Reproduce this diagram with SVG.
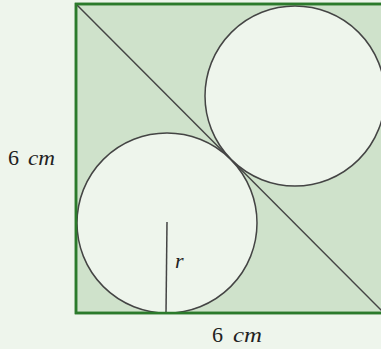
<svg xmlns="http://www.w3.org/2000/svg" width="381" height="349" viewBox="0 0 381 349">
<style>
.lbl{font-family:"Liberation Serif","Times New Roman","DejaVu Serif",serif;font-size:22px;fill:#222}
.it{font-style:italic}
.ln{stroke:#444;stroke-width:1.5;fill:none}
.circ{fill:#eef5ec;stroke:#444;stroke-width:1.5}
</style>
<rect x="0" y="0" width="381" height="349" fill="#eef5ec"/>
<g id="square">
<rect x="76" y="4" width="308" height="309" fill="#cfe2cb" stroke="#2b7a2b" stroke-width="2.5"/>
</g>
<g id="connectors">
<line class="ln" x1="76" y1="4" x2="384" y2="313"/>
</g>
<g id="circle-lower">
<circle class="circ" cx="167" cy="223" r="90"/>
</g>
<g id="circle-upper">
<circle class="circ" cx="295" cy="96" r="90"/>
</g>
<g id="radius">
<line class="ln" x1="167" y1="222" x2="166" y2="313"/>
<text class="lbl it" x="175" y="268">r</text>
</g>
<g id="label-left">
<text class="lbl" x="8" y="165">6<tspan class="it" x="28" textLength="27" lengthAdjust="spacingAndGlyphs">cm</tspan></text>
</g>
<g id="label-bottom">
<text class="lbl" x="212" y="342">6<tspan class="it" x="233" textLength="29" lengthAdjust="spacingAndGlyphs">cm</tspan></text>
</g>
<g id="square-border">
<rect x="76" y="4" width="308" height="309" fill="none" stroke="#2b7a2b" stroke-width="2.5"/>
</g>
</svg>
